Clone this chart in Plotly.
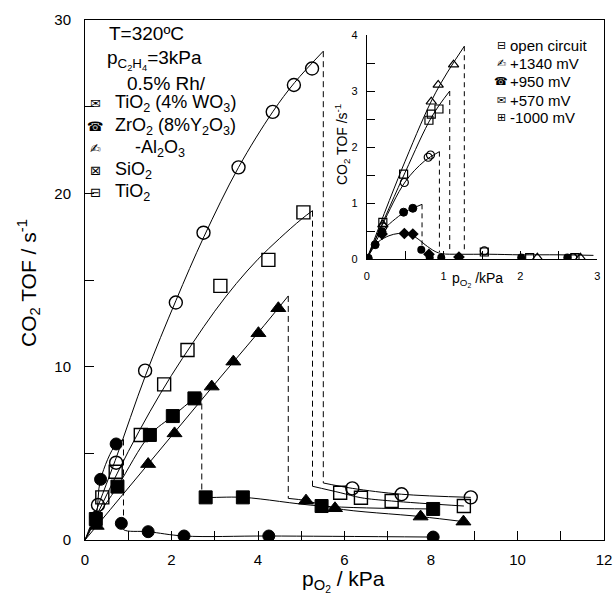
import plotly.graph_objects as go

FONT = "Liberation Sans, Arial, DejaVu Sans, sans-serif"

# ================= main panel data (p_O2 / kPa , CO2 TOF / s^-1) =================
# open circles
oc_rise_x = [0.30, 0.72, 1.39, 2.10, 2.74, 3.55, 4.34, 4.83, 5.25]
oc_rise_y = [2.02, 4.46, 9.77, 13.7, 17.73, 21.5, 24.7, 26.25, 27.2]
oc_low_x = [6.18, 7.32, 8.92]
oc_low_y = [2.98, 2.64, 2.46]
oc_fit_x = [0, 0.7, 1.4, 2.1, 2.75, 3.55, 4.34, 4.85, 5.51]
oc_fit_y = [0, 4.6, 9.5, 13.8, 17.5, 21.5, 24.7, 26.4, 28.2]
oc_jump_x, oc_jump_top, oc_jump_bot = 5.51, 28.2, 3.29

# open squares
os_rise_x = [0.40, 0.71, 1.29, 1.83, 2.37, 3.13, 4.24, 5.05]
os_rise_y = [2.46, 3.94, 6.06, 8.98, 10.96, 14.66, 16.16, 18.9]
os_low_x = [5.90, 6.38, 7.09, 8.76]
os_low_y = [2.73, 2.44, 2.25, 1.96]
os_fit_x = [0, 0.5, 1.0, 1.5, 2.0, 2.5, 3.0, 3.5, 4.0, 4.5, 5.0, 5.26]
os_fit_y = [0, 2.6, 5.1, 7.4, 9.5, 11.4, 13.2, 14.8, 16.2, 17.4, 18.5, 19.0]
os_jump_x, os_jump_top, os_jump_bot = 5.26, 19.0, 3.10

# filled triangles
ft_rise_x = [0.27, 1.46, 2.07, 2.93, 3.43, 4.01, 4.47]
ft_rise_y = [0.81, 4.38, 6.15, 8.85, 10.29, 11.93, 13.37]
ft_low_x = [5.11, 5.78, 7.76, 8.75]
ft_low_y = [2.27, 1.83, 1.35, 1.06]
ft_fit_x = [0, 1.0, 2.0, 3.0, 4.0, 4.70]
ft_fit_y = [0, 3.0, 6.0, 9.0, 11.95, 14.08]
ft_jump_x, ft_jump_top, ft_jump_bot = 4.70, 14.08, 2.40

# filled squares
fs_rise_x = [0.25, 0.75, 1.50, 2.03, 2.53]
fs_rise_y = [1.21, 3.08, 6.06, 7.15, 8.17]
fs_low_x = [2.79, 3.65, 5.47, 8.05]
fs_low_y = [2.46, 2.46, 1.96, 1.79]
fs_fit_x = [0, 0.25, 0.75, 1.50, 2.03, 2.53, 2.70]
fs_fit_y = [0, 1.21, 3.08, 6.06, 7.15, 8.17, 8.45]
fs_jump_x, fs_jump_top, fs_jump_bot = 2.70, 8.45, 2.50

# filled circles
fc_rise_x = [0.25, 0.36, 0.72]
fc_rise_y = [1.31, 3.50, 5.54]
fc_low_x = [0.84, 1.46, 2.29, 4.25, 8.05]
fc_low_y = [0.96, 0.48, 0.23, 0.23, 0.17]
fc_fit_x = [0, 0.25, 0.36, 0.72, 0.89]
fc_fit_y = [0, 1.31, 3.50, 5.54, 5.80]
fc_jump_x, fc_jump_top, fc_jump_bot = 0.89, 5.80, 0.60

# ================= inset data =================
it_rise_x = [0.21, 0.84, 0.93, 1.13]
it_rise_y = [0.62, 2.81, 3.11, 3.47]
it_low_x = [2.22, 2.78]
it_low_y = [0.03, 0.03]
it_fit_x = [0, 0.5, 0.9, 1.27]
it_fit_y = [0, 1.75, 2.98, 3.80]
it_jump_x, it_jump_top, it_jump_bot = 1.27, 3.80, 0.13

is_rise_x = [0.21, 0.48, 0.81, 0.84, 0.94]
is_rise_y = [0.66, 1.52, 2.48, 2.59, 2.68]
is_low_x = [1.53, 2.12, 2.71]
is_low_y = [0.13, 0.03, 0.03]
is_fit_x = [0, 0.5, 0.85, 1.08]
is_fit_y = [0, 1.55, 2.55, 3.0]
is_jump_x, is_jump_top, is_jump_bot = 1.08, 3.0, 0.13

ic_rise_x = [0.21, 0.49, 0.80, 0.83]
ic_rise_y = [0.58, 1.37, 1.82, 1.86]
ic_low_x = [1.53, 2.68]
ic_low_y = [0.15, 0.03]
ic_fit_x = [0, 0.2, 0.5, 0.75, 0.946]
ic_fit_y = [0, 0.6, 1.38, 1.75, 1.92]
ic_jump_x, ic_jump_top, ic_jump_bot = 0.946, 1.92, 0.13

ifc_rise_x = [0.02, 0.11, 0.20, 0.48, 0.60]
ifc_rise_y = [0.02, 0.26, 0.49, 0.84, 0.91]
ifc_low_x = [0.71, 0.82, 0.97, 2.01, 2.61]
ifc_low_y = [0.17, 0.03, 0.03, 0.03, 0.03]
ifc_fit_x = [0, 0.11, 0.20, 0.48, 0.60, 0.72]
ifc_fit_y = [0, 0.29, 0.50, 0.83, 0.91, 0.98]
ifc_jump_x, ifc_jump_top, ifc_jump_bot = 0.72, 0.98, 0.13

idm_x = [0.20, 0.49, 0.60, 0.81, 1.20]
idm_y = [0.45, 0.46, 0.45, 0.09, 0.04]
idm_fit_x = [0, 0.07, 0.15, 0.29, 0.41, 0.5, 0.6, 0.68, 0.76, 0.89, 0.98, 1.2, 1.6, 2.0, 2.5, 2.95]
idm_fit_y = [0, 0.17, 0.31, 0.42, 0.46, 0.46, 0.42, 0.35, 0.26, 0.14, 0.10, 0.09, 0.09, 0.08, 0.08, 0.07]

# ================= text =================
main_legend_glyphs = ["\u2709", "\u260E", "\u270D", "\u22A0", "\u229F"]
main_legend_labels = ["TiO<sub>2</sub> (4% WO<sub>3</sub>)",
                      "ZrO<sub>2</sub> (8%Y<sub>2</sub>O<sub>3</sub>)",
                      " -Al<sub>2</sub>O<sub>3</sub>",
                      "SiO<sub>2</sub>",
                      "TiO<sub>2</sub>"]
inset_legend_glyphs = ["\u229F", "\u270D", "\u260E", "\u2709", "\u229E"]
inset_legend_labels = ["open circuit", "+1340 mV", "+950 mV", "+570 mV", "-1000 mV"]

fig = go.Figure()


def add_series(fx, fy, jx, jtop, jbot, rx, ry, lx, ly, symbol, size, xa, ya, dash, lw_marker):
    fig.add_trace(go.Scatter(x=fx, y=fy, mode="lines", xaxis=xa, yaxis=ya,
                             line=dict(color="black", width=1, shape="spline"),
                             hoverinfo="skip", showlegend=False))
    fig.add_trace(go.Scatter(x=[jx, jx], y=[jtop, jbot], mode="lines", xaxis=xa, yaxis=ya,
                             line=dict(color="black", width=1, dash=dash),
                             hoverinfo="skip", showlegend=False))
    if lx is not None:
        pts = sorted(zip([jx] + list(lx), [jbot] + list(ly)))
        fig.add_trace(go.Scatter(x=[p[0] for p in pts], y=[p[1] for p in pts], mode="lines",
                                 xaxis=xa, yaxis=ya,
                                 line=dict(color="black", width=1, shape="spline"),
                                 hoverinfo="skip", showlegend=False))
    mx = list(rx) + (list(lx) if lx is not None else [])
    my = list(ry) + (list(ly) if ly is not None else [])
    fig.add_trace(go.Scatter(x=mx, y=my, mode="markers", xaxis=xa, yaxis=ya,
                             marker=dict(symbol=symbol, size=size, color="black",
                                         line=dict(color="black", width=lw_marker)),
                             showlegend=False))


MD = "6px,4px"
add_series(fc_fit_x, fc_fit_y, fc_jump_x, fc_jump_top, fc_jump_bot, fc_rise_x, fc_rise_y, fc_low_x, fc_low_y, "circle", 12, "x", "y", MD, 1)
add_series(fs_fit_x, fs_fit_y, fs_jump_x, fs_jump_top, fs_jump_bot, fs_rise_x, fs_rise_y, fs_low_x, fs_low_y, "square", 13, "x", "y", MD, 1)
add_series(ft_fit_x, ft_fit_y, ft_jump_x, ft_jump_top, ft_jump_bot, ft_rise_x, ft_rise_y, ft_low_x, ft_low_y, "triangle-up", 13, "x", "y", MD, 1)
add_series(os_fit_x, os_fit_y, os_jump_x, os_jump_top, os_jump_bot, os_rise_x, os_rise_y, os_low_x, os_low_y, "square-open", 13, "x", "y", MD, 1.4)
add_series(oc_fit_x, oc_fit_y, oc_jump_x, oc_jump_top, oc_jump_bot, oc_rise_x, oc_rise_y, oc_low_x, oc_low_y, "circle-open", 13, "x", "y", MD, 1.4)

ID = "5px,4px"
fig.add_trace(go.Scatter(x=idm_fit_x, y=idm_fit_y, mode="lines", xaxis="x2", yaxis="y2",
                         line=dict(color="black", width=1, shape="spline"),
                         hoverinfo="skip", showlegend=False))
fig.add_trace(go.Scatter(x=idm_x, y=idm_y, mode="markers", xaxis="x2", yaxis="y2",
                         marker=dict(symbol="diamond", size=9, color="black"), showlegend=False))
add_series(ifc_fit_x, ifc_fit_y, ifc_jump_x, ifc_jump_top, ifc_jump_bot, ifc_rise_x, ifc_rise_y, None, None, "circle", 8, "x2", "y2", ID, 1)
fig.add_trace(go.Scatter(x=ifc_low_x, y=ifc_low_y, mode="markers", xaxis="x2", yaxis="y2",
                         marker=dict(symbol="circle", size=8, color="black"), showlegend=False))
add_series(ic_fit_x, ic_fit_y, ic_jump_x, ic_jump_top, ic_jump_bot, ic_rise_x, ic_rise_y, None, None, "circle-open", 8, "x2", "y2", ID, 1.2)
fig.add_trace(go.Scatter(x=ic_low_x, y=ic_low_y, mode="markers", xaxis="x2", yaxis="y2",
                         marker=dict(symbol="circle-open", size=8, color="black", line=dict(width=1.2)), showlegend=False))
add_series(is_fit_x, is_fit_y, is_jump_x, is_jump_top, is_jump_bot, is_rise_x, is_rise_y, None, None, "square-open", 8, "x2", "y2", ID, 1.2)
fig.add_trace(go.Scatter(x=is_low_x, y=is_low_y, mode="markers", xaxis="x2", yaxis="y2",
                         marker=dict(symbol="square-open", size=8, color="black", line=dict(width=1.2)), showlegend=False))
add_series(it_fit_x, it_fit_y, it_jump_x, it_jump_top, it_jump_bot, it_rise_x, it_rise_y, None, None, "triangle-up-open", 9, "x2", "y2", ID, 1.2)
fig.add_trace(go.Scatter(x=it_low_x, y=it_low_y, mode="markers", xaxis="x2", yaxis="y2",
                         marker=dict(symbol="triangle-up-open", size=9, color="black", line=dict(width=1.2)), showlegend=False))

# ================= axes =================
L, R, T, B = 85, 11, 20, 57
W, H = 615, 597
pw, ph = W - L - R, H - T - B


def px(xp):
    return (xp - L) / pw


def py(yp):
    return (H - B - yp) / ph


axis_common = dict(showline=True, linecolor="black", linewidth=1, showgrid=False, zeroline=False,
                   ticks="inside", tickcolor="black", tickwidth=1, automargin=False)

fig.update_layout(
    width=W, height=H, margin=dict(l=L, r=R, t=T, b=B, autoexpand=False),
    paper_bgcolor="white", plot_bgcolor="white",
    font=dict(family=FONT, color="black"),
    xaxis=dict(**axis_common, range=[0, 12], dtick=2, tick0=0, ticklen=9, mirror=True,
               minor=dict(dtick=1, ticks="inside", ticklen=9, tickcolor="black"),
               tickfont=dict(size=15), ticklabelstandoff=6),
    yaxis=dict(**axis_common, range=[0, 30], dtick=10, tick0=0, ticklen=9, mirror=True,
               minor=dict(dtick=5, ticks="inside", ticklen=9, tickcolor="black"),
               tickfont=dict(size=15), ticklabelstandoff=10),
    xaxis2=dict(**axis_common, domain=[px(366.7), px(597.3)], anchor="y2", range=[0, 3],
                dtick=1, tick0=0, ticklen=8,
                minor=dict(dtick=0.5, ticks="inside", ticklen=8, tickcolor="black"),
                tickfont=dict(size=11), ticklabelstandoff=6),
    yaxis2=dict(**axis_common, domain=[py(259.3), py(35)], anchor="x2", range=[0, 4],
                dtick=1, tick0=0, ticklen=8,
                minor=dict(dtick=0.5, ticks="inside", ticklen=8, tickcolor="black"),
                tickfont=dict(size=11), ticklabelstandoff=6),
)

ann = []
# axis titles
ann.append(dict(text="p<sub>O<sub>2</sub></sub> / kPa", x=px(343), y=py(581),
                xanchor="center", yanchor="middle", font=dict(size=21)))
ann.append(dict(text="CO<sub>2</sub> TOF / s<sup>-1</sup>", x=px(28), y=py(283), textangle=-90,
                xanchor="center", yanchor="middle", font=dict(size=21)))
ann.append(dict(text="T=320\u00baC", x=px(107), y=py(33), xanchor="left", yanchor="middle",
                font=dict(size=19)))
ann.append(dict(text="p<sub>C<sub>2</sub>H<sub>4</sub></sub>=3kPa", x=px(105), y=py(60),
                xanchor="left", yanchor="middle", font=dict(size=19)))
ann.append(dict(text="0.5% Rh/", x=px(125), y=py(83), xanchor="left", yanchor="middle",
                font=dict(size=19)))
main_leg_y = [104, 126, 148, 170, 192]
main_leg_tx = [113, 113, 128, 113, 113]
for g, lab, yy, tx in zip(main_legend_glyphs, main_legend_labels, main_leg_y, main_leg_tx):
    ann.append(dict(text=g, x=px(95), y=py(yy), xanchor="center", yanchor="middle",
                    font=dict(size=13, family="DejaVu Sans")))
    ann.append(dict(text=lab, x=px(tx), y=py(yy), xanchor="left", yanchor="middle",
                    font=dict(size=18)))
inset_leg_y = [45, 63.3, 81.7, 100, 117]
for g, lab, yy in zip(inset_legend_glyphs, inset_legend_labels, inset_leg_y):
    ann.append(dict(text=g, x=px(501), y=py(yy), xanchor="center", yanchor="middle",
                    font=dict(size=11, family="DejaVu Sans")))
    ann.append(dict(text=lab, x=px(508), y=py(yy), xanchor="left", yanchor="middle",
                    font=dict(size=15)))
ann.append(dict(text="CO<sub>2</sub> TOF /s<sup>-1</sup>", x=px(342), y=py(145), textangle=-90,
                xanchor="center", yanchor="middle", font=dict(size=14)))
ann.append(dict(text="p<sub>O<sub>2</sub></sub> /kPa", x=px(477), y=py(279),
                xanchor="center", yanchor="middle", font=dict(size=14)))
for a in ann:
    a.update(xref="paper", yref="paper", showarrow=False)
fig.update_layout(annotations=ann)

fig.write_html("out.html", config={"displayModeBar": False},
               post_script="document.body.style.margin='0';document.body.style.padding='0';"
                           "document.body.style.overflow='hidden';"
                           "document.documentElement.style.overflow='hidden';")
